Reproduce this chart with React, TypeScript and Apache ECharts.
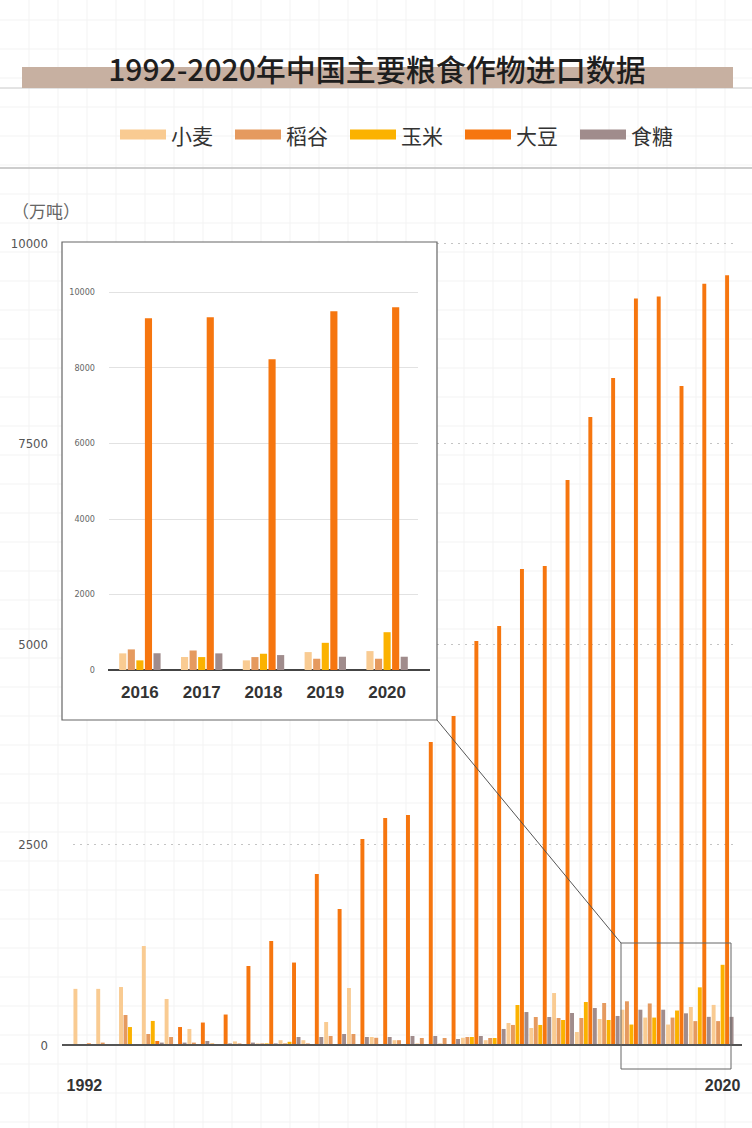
import React, { useEffect, useRef } from "react";
import * as echarts from "echarts";

const years = [
  "1992", "1993", "1994", "1995", "1996", "1997", "1998", "1999", "2000", "2001",
  "2002", "2003", "2004", "2005", "2006", "2007", "2008", "2009", "2010", "2011",
  "2012", "2013", "2014", "2015", "2016", "2017", "2018", "2019", "2020",
];
const seriesNames = ["小麦", "稻谷", "玉米", "大豆", "食糖"];
const wheat = [700, 700, 723, 1234, 574, 200, 25, 45, 20, 60, 60, 287, 711, 100, 60, 20, 20, 90, 60, 274, 212, 648, 162, 324, 440, 342, 255, 474, 500];
const rice = [5, 30, 374, 137, 100, 30, 10, 20, 20, 20, 20, 112, 137, 90, 60, 87, 87, 100, 87, 250, 349, 337, 337, 524, 545, 518, 342, 298, 298];
const corn = [0, 0, 224, 300, 5, 0, 10, 10, 20, 40, 10, 10, 5, 10, 5, 5, 5, 100, 87, 499, 250, 312, 536, 312, 255, 342, 430, 719, 1000];
const soybean = [20, 10, 5, 50, 224, 280, 380, 985, 1297, 1028, 2132, 1696, 2569, 2830, 2868, 3778, 4102, 5037, 5224, 5935, 5972, 7045, 7830, 8317, 9308, 9334, 8218, 9492, 9597];
const sugar = [10, 10, 10, 30, 30, 50, 20, 30, 20, 100, 100, 137, 100, 100, 112, 112, 75, 112, 200, 411, 349, 399, 461, 362, 440, 440, 395, 351, 351];
const mainYTicks = [0, 2500, 5000, 7500, 10000];
const insetYTicks = [0, 2000, 4000, 6000, 8000, 10000];
const insetStart = 24; // index of 2016
const colors = ["#f9cb92", "#e59a5f", "#fbb200", "#f6760f", "#a08c8c"];
const title = "1992-2020年中国主要粮食作物进口数据";
const unitLabel = "（万吨）";

export default function App() {
  const ref = useRef<HTMLDivElement>(null);
  useEffect(() => {
    const chart = echarts.init(ref.current!, null, { renderer: "svg" });
    const allData = [wheat, rice, corn, soybean, sugar];
    const insetYears = years.slice(insetStart);
    const paper: any[] = [];
    for (let x = 29; x < 752; x += 29) {
      paper.push({ type: "line", z: -10, shape: { x1: x, y1: 0, x2: x, y2: 1128 }, style: { stroke: "#f3f3f3", lineWidth: 1 } });
    }
    for (let y = 20; y < 1128; y += 29) {
      paper.push({ type: "line", z: -10, shape: { x1: 0, y1: y, x2: 752, y2: y }, style: { stroke: "#f3f3f3", lineWidth: 1 } });
    }
    const plain = (v: number) => String(v);
    const mainSeries = allData.map((d, i) => ({
      name: seriesNames[i],
      type: "bar",
      xAxisIndex: 0,
      yAxisIndex: 0,
      data: d,
      barCategoryGap: "4%",
      barGap: "14%",
      itemStyle: { color: colors[i] },
      z: 2,
    }));
    const insetSeries = allData.map((d, i) => ({
      name: seriesNames[i],
      type: "bar",
      xAxisIndex: 1,
      yAxisIndex: 1,
      data: d.slice(insetStart),
      barCategoryGap: "33%",
      barGap: "20%",
      itemStyle: { color: colors[i] },
      z: 60,
    }));
    chart.setOption({
      animation: false,
      backgroundColor: "#ffffff",
      color: colors,
      legend: {
        data: seriesNames,
        left: 115,
        top: 119,
        icon: "rect",
        itemWidth: 46,
        itemHeight: 10,
        itemGap: 22,
        textStyle: { fontSize: 21, color: "#333", fontFamily: "Noto Sans CJK SC" },
      },
      grid: [
        { left: 73, right: 18, top: 243, bottom: 83 },
        { left: 109, width: 309, top: 292, height: 378 },
      ],
      xAxis: [
        {
          type: "category",
          gridIndex: 0,
          data: years,
          axisLine: { show: true, lineStyle: { color: "#555", width: 2 } },
          axisTick: { show: false },
          axisLabel: {
            interval: (i: number) => i === 0 || i === years.length - 1,
            fontSize: 16,
            fontWeight: "bold",
            color: "#333",
            margin: 32,
            fontFamily: "Liberation Sans",
          },
        },
        {
          type: "category",
          gridIndex: 1,
          data: insetYears,
          z: 55,
          axisLine: { show: true, lineStyle: { color: "#444", width: 2 } },
          axisTick: { show: false },
          axisLabel: { fontSize: 17, fontWeight: "bold", color: "#333", margin: 14, fontFamily: "Liberation Sans" },
        },
      ],
      yAxis: [
        {
          type: "value",
          gridIndex: 0,
          min: mainYTicks[0],
          max: mainYTicks[mainYTicks.length - 1],
          interval: mainYTicks[1] - mainYTicks[0],
          axisLine: { show: false },
          axisTick: { show: false },
          axisLabel: { fontSize: 13, color: "#555", margin: 25, fontFamily: "DejaVu Sans Condensed", formatter: plain },
          splitLine: { show: true, lineStyle: { color: "#c4c4c4", type: [2, 5] } },
        },
        {
          type: "value",
          gridIndex: 1,
          min: insetYTicks[0],
          max: insetYTicks[insetYTicks.length - 1],
          interval: insetYTicks[1] - insetYTicks[0],
          z: 55,
          axisLine: { show: false },
          axisTick: { show: false },
          axisLabel: { fontSize: 9, color: "#666", margin: 14, fontFamily: "DejaVu Sans Condensed", formatter: plain },
          splitLine: { show: true, lineStyle: { color: "#e2e2e2", width: 1 } },
        },
      ],
      graphic: [
        ...paper,
        { type: "line", z: 1, shape: { x1: 0, y1: 88, x2: 752, y2: 88 }, style: { stroke: "#c8c8c8", lineWidth: 1 } },
        { type: "line", z: 1, shape: { x1: 0, y1: 168, x2: 752, y2: 168 }, style: { stroke: "#bdbdbd", lineWidth: 1.5 } },
        { type: "rect", z: 5, shape: { x: 22, y: 67, width: 711, height: 21 }, style: { fill: "#c7b0a1" } },
        {
          type: "text",
          z: 6,
          x: 377,
          y: 68,
          style: {
            text: title,
            fontSize: 30,
            fontWeight: 500,
            fill: "#1e1e1e",
            align: "center",
            verticalAlign: "middle",
            fontFamily: "Noto Sans CJK SC",
          },
        },
        {
          type: "text",
          z: 6,
          x: 12,
          y: 210,
          style: { text: unitLabel, fontSize: 17, fill: "#666", verticalAlign: "middle", fontFamily: "Noto Sans CJK SC" },
        },
        { type: "line", z: 3, shape: { x1: 62, y1: 1045, x2: 742, y2: 1045 }, style: { stroke: "#555", lineWidth: 2 } },
        { type: "rect", z: 50, shape: { x: 62, y: 242, width: 375, height: 478 }, style: { fill: "#ffffff", stroke: "#666", lineWidth: 1.2 } },
        { type: "line", z: 58, shape: { x1: 108, y1: 670, x2: 430, y2: 670 }, style: { stroke: "#444", lineWidth: 2 } },
        { type: "rect", z: 50, shape: { x: 621, y: 943, width: 110, height: 126 }, style: { fill: "none", stroke: "#666", lineWidth: 1 } },
        { type: "line", z: 50, shape: { x1: 437, y1: 720, x2: 621, y2: 943 }, style: { stroke: "#555", lineWidth: 1 } },
      ],
      series: [...mainSeries, ...insetSeries],
    });
    return () => chart.dispose();
  }, []);
  return (
    <div
      ref={ref}
      style={{ position: "absolute", left: 0, top: 0, width: 752, height: 1128, background: "#fff" }}
    />
  );
}
